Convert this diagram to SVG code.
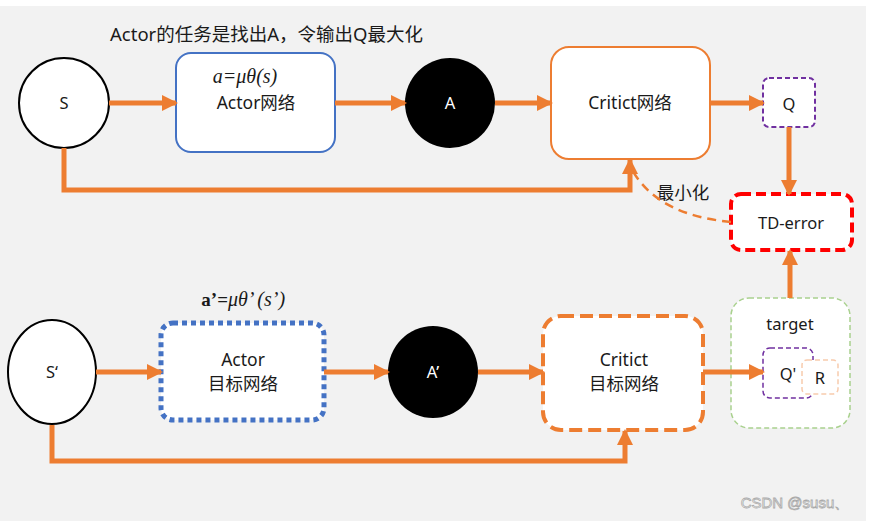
<svg xmlns="http://www.w3.org/2000/svg" width="871" height="521" viewBox="0 0 871 521">
<defs>
<marker id="ah" markerUnits="userSpaceOnUse" markerWidth="16" markerHeight="16" refX="14" refY="8" orient="auto">
<path d="M0,0 L16,8 L0,16 Z" fill="#ed7d31"/>
</marker>
<style>
text{font-family:"Noto Sans","Noto Sans CJK SC",sans-serif;fill:#1a1a1a;text-anchor:middle}
.t{font-size:17.5px}
.s{font-size:16.5px}
.f{font-family:"Liberation Serif","DejaVu Serif",serif;font-style:italic;font-size:20px;fill:#1a1a1a}
.c{stroke:#ed7d31;stroke-width:5;fill:none}
.box{fill:#fff}
</style>
</defs>
<rect x="0" y="0" width="871" height="521" fill="#fff"/>
<rect x="0" y="6" width="866" height="515" fill="#f2f2f2"/>
<text x="110" y="41" style="text-anchor:start;font-size:18.5px">Actor的任务是找出A，令输出Q最大化</text>
<g id="S">
<circle cx="64" cy="103" r="45" fill="#fff" stroke="#000" stroke-width="2"/>
<text x="64" y="109" class="s">S</text>
</g>
<g id="Actor">
<rect x="176" y="53" width="159" height="99" rx="15" class="box" stroke="#4472c4" stroke-width="2"/>
<text x="245" y="83" class="f">a=μθ(s)</text>
<text x="256" y="109" class="t">Actor网络</text>
</g>
<g id="A">
<circle cx="450" cy="103" r="45" fill="#000"/>
<text x="450" y="109" class="s" style="fill:#fff">A</text>
</g>
<g id="Critic">
<rect x="551" y="47" width="159" height="112" rx="18" class="box" stroke="#ed7d31" stroke-width="2"/>
<text x="630" y="109" class="t">Critict网络</text>
</g>
<g id="Q">
<rect x="763" y="78" width="52" height="49" rx="6" class="box" stroke="#7030a0" stroke-width="2" stroke-dasharray="5,3"/>
<text x="789" y="110" class="s">Q</text>
</g>
<g id="TDerror">
<rect x="731" y="194" width="121" height="56" rx="10" class="box" stroke="#ff0000" stroke-width="4" stroke-dasharray="10,5"/>
<text x="791" y="229" class="s">TD-error</text>
</g>
<text x="683" y="199" class="t">最小化</text>
<g id="Sp">
<ellipse cx="52" cy="372" rx="44" ry="52" fill="#fff" stroke="#000" stroke-width="2"/>
<text x="52" y="378" class="s">S‘</text>
</g>
<g id="ActorTarget">
<rect x="161" y="323" width="163" height="97" rx="12" class="box" stroke="#4472c4" stroke-width="5" stroke-dasharray="5,4"/>
<text x="228" y="306" style="font-family:'Liberation Serif',serif;font-size:19px;font-weight:bold;text-anchor:end">a’=</text>
<text x="228" y="306" class="f" style="text-anchor:start">μθ’ (s’)</text>
<text x="243" y="366" class="t">Actor</text>
<text x="243" y="390" class="t">目标网络</text>
</g>
<g id="Ap">
<ellipse cx="433" cy="372" rx="45" ry="46" fill="#000"/>
<text x="433" y="378" class="s" style="fill:#fff">A’</text>
</g>
<g id="CriticTarget">
<rect x="543" y="316" width="160" height="114" rx="18" class="box" stroke="#ed7d31" stroke-width="4" stroke-dasharray="13,6"/>
<text x="624" y="366" class="t">Critict</text>
<text x="624" y="390" class="t">目标网络</text>
</g>
<g id="target">
<rect x="731" y="298" width="119" height="130" rx="18" class="box" stroke="#a9d18e" stroke-width="1.5" stroke-dasharray="5,3"/>
<text x="790" y="330" class="s">target</text>
<g id="Qp">
<rect x="763" y="348" width="50" height="50" rx="7" fill="#fff" stroke="#7030a0" stroke-width="1.5" stroke-dasharray="5,3"/>
<text x="788" y="380" class="s">Q'</text>
</g>
<g id="R">
<rect x="802" y="360" width="36" height="34" rx="5" fill="#fff" stroke="#f8cbad" stroke-width="1.5" stroke-dasharray="5,3"/>
<text x="820" y="384" class="s">R</text>
</g>
</g>
<g id="connectors">
<line x1="109" y1="103" x2="176" y2="103" class="c" marker-end="url(#ah)"/>
<line x1="335" y1="103" x2="405" y2="103" class="c" marker-end="url(#ah)"/>
<line x1="495" y1="103" x2="551" y2="103" class="c" marker-end="url(#ah)"/>
<line x1="710" y1="103" x2="763" y2="103" class="c" marker-end="url(#ah)"/>
<line x1="789" y1="127" x2="789" y2="194" class="c" marker-end="url(#ah)"/>
<polyline points="64,148 64,190 630,190 630,160" class="c" marker-end="url(#ah)"/>
<path d="M731,222 C690,218 650,205 630,166" fill="none" stroke="#ed7d31" stroke-width="2.5" stroke-dasharray="9,6"/>
<line x1="96" y1="372" x2="161" y2="372" class="c" marker-end="url(#ah)"/>
<line x1="324" y1="372" x2="388" y2="372" class="c" marker-end="url(#ah)"/>
<line x1="478" y1="372" x2="543" y2="372" class="c" marker-end="url(#ah)"/>
<line x1="703" y1="372" x2="763" y2="372" class="c" marker-end="url(#ah)"/>
<line x1="790" y1="298" x2="790" y2="251" class="c" marker-end="url(#ah)"/>
<polyline points="52,425 52,461 625,461 625,431" class="c" marker-end="url(#ah)"/>
</g>
<text x="795" y="508" style="font-family:'Liberation Sans',sans-serif;font-size:15px;fill:#fff;stroke:#aaa;stroke-width:0.8">CSDN @susu、</text>
</svg>
